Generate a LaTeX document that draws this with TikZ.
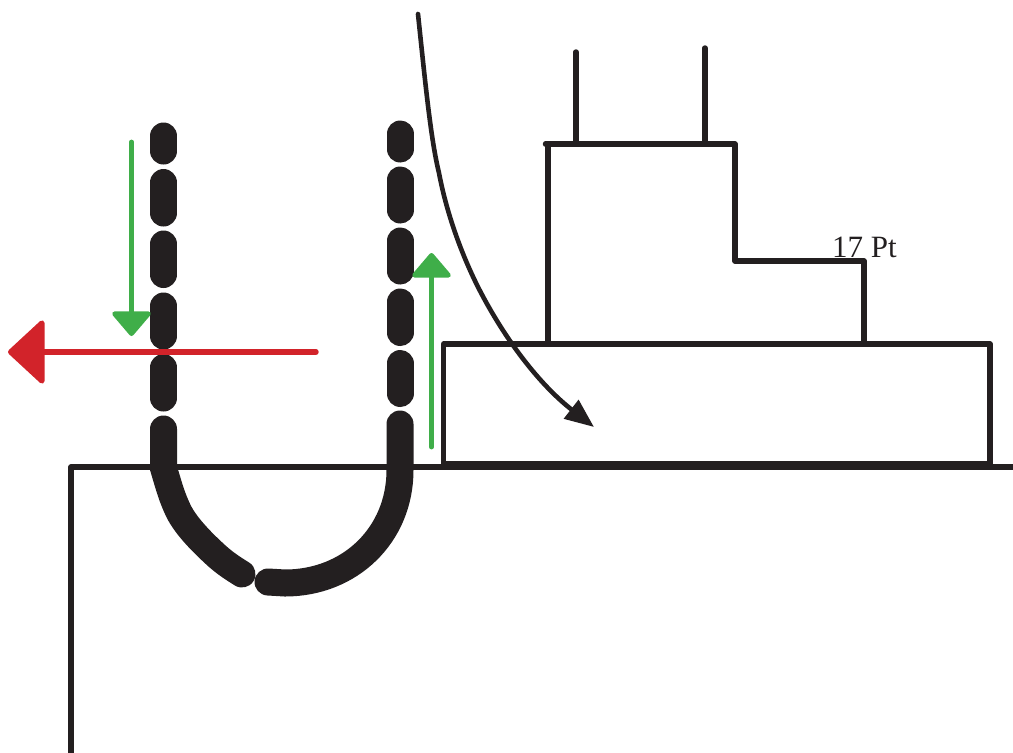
\documentclass[tikz,border=0pt]{standalone}
\usepackage{fontspec}
\setmainfont{Liberation Serif}
\usetikzlibrary{arrows.meta}
\definecolor{inkk}{HTML}{231F20}
\definecolor{grx}{HTML}{3FAE49}
\definecolor{rdx}{HTML}{D2232A}
\tikzset{
    outline/.style={inkk,line width=5.4pt,line cap=round,line join=round},
    tube/.style={inkk,line width=27pt,line cap=round},
    flowgreen/.style={grx,line width=4.8pt,line cap=round,-{Triangle[length=26pt,width=43pt,round]}},
    flowred/.style={rdx,line width=5.4pt,line cap=round,-{Triangle[length=38pt,width=69pt,round]}},
    flowblack/.style={inkk,line width=4.6pt,line cap=round,-{Triangle[length=29pt,width=23pt]}}
}
\begin{document}
\begin{tikzpicture}[x=1pt,y=-1pt]
        \useasboundingbox (0,0) rectangle (1013,753);
        % ground and blocks
        \draw [outline] (71,753) -- (71,467) -- (1013,467);
        \draw [outline] (443.5,464) rectangle (990,344);
        \draw [outline] (548,343) -- (548,144);
        \draw [outline] (545.5,144) -- (735,144) -- (735,261) -- (864,261) -- (864,343);
        \draw [outline] (576,52) -- (576,144);
        \draw [outline] (705,48) -- (705,141);
        \node (weight) [inkk,font=\fontsize{31}{31}\selectfont,inner sep=0pt,anchor=base] at (864.5,257) {17 Pt};
        % dashes of the tube
        \foreach \ya/\yb in {136/151,182.5/213,244/274.5,306/336,367.5/398} {
            \draw [tube] (163.5,\ya) -- (163.5,\yb);
        }
        \foreach \ya/\yb in {134/149,180/210,241/271,302/332.5,363.5/393.5} {
            \draw [tube] (400,\ya) -- (400,\yb);
        }
        % bottom of the tube
        \draw [tube] (163.5,429) -- (163.5,468)
            .. controls (170,490) and (172,497) .. (178,510)
            .. controls (186,527) and (205,545) .. (217,556)
            .. controls (226,564) and (234,569) .. (242,574);
        \draw [tube] (400,424) -- (400,470)
            .. controls (400,535) and (350,583) .. (285,583)
            -- (268,582);
        % flows
        \draw [flowgreen] (131.5,142) -- (131.5,336);
        \draw [flowgreen] (431.5,447) -- (431.5,253);
        \draw [flowred] (316,352) -- (8,352);
        \draw [flowblack] (418,14)
            .. controls (426,90) and (431,140) .. (439,173)
            .. controls (447,215) and (462,255) .. (478,287)
            .. controls (505,340) and (540,385) .. (594,427);
    \end{tikzpicture}
\end{document}
